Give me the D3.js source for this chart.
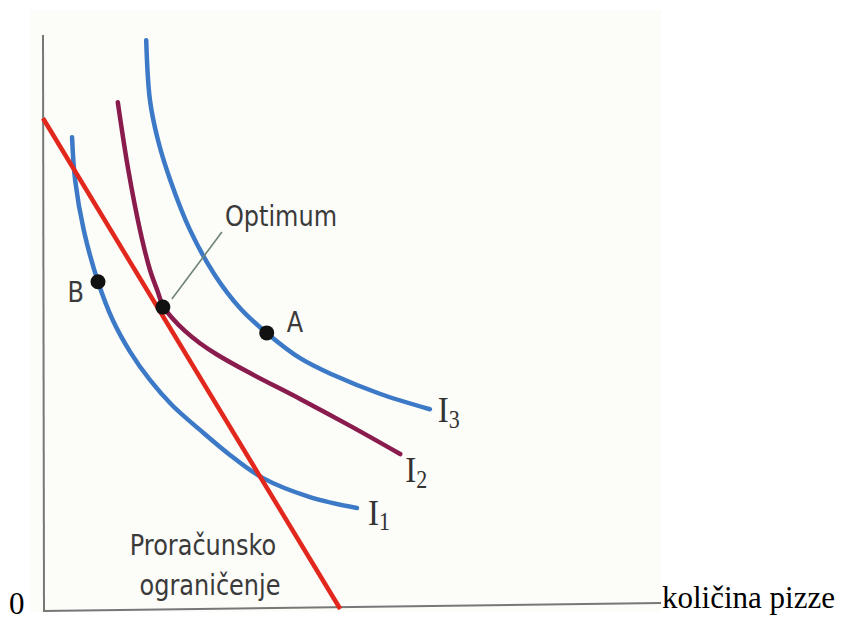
<!DOCTYPE html>
<html>
<head>
<meta charset="utf-8">
<script src="https://cdn.jsdelivr.net/npm/d3@7"></script>
<style>
  body { margin: 0; background: #ffffff; }
  svg { display: block; }
</style>
</head>
<body>
<div id="visualization"></div>
<script>
// values (x = količina pizze, y = other good, 0..100 units)
const budgetLine = [[0, 85.5], [48.1, 0]];

const curveI1 = [[4.7, 82.2], [5.2, 74.7], [6.6, 66.0], [8.9, 57.0], [11.3, 50.3], [14.1, 44.8],
                 [17.3, 39.9], [20.9, 35.5], [25.4, 31.2], [30.3, 26.8], [35.6, 22.8], [43.2, 19.5], [50.8, 17.6]];
const curveI2 = [[12.1, 88.3], [13.8, 76.5], [15.7, 66.0], [17.3, 59.1], [18.6, 55.2], [19.4, 52.8],
                 [20.9, 50.7], [23.0, 48.4], [25.4, 46.3], [28.2, 44.3], [33.5, 41.1], [41.6, 36.6], [49.7, 31.9], [57.8, 27.0]];
const curveI3 = [[16.7, 99.1], [17.3, 88.7], [18.6, 81.7], [20.6, 74.7], [23.8, 66.0], [27.8, 58.2],
                 [31.9, 52.4], [36.2, 48.1], [41.6, 43.7], [46.9, 40.8], [54.5, 37.5], [62.6, 34.8]];

const curveNames = ["1", "2", "3"];
const pointNames = ["B", "Optimum", "A"];
const pointValues = [[8.9, 57.0], [19.4, 52.6], [36.2, 48.1]];
const budgetLabel = ["Proračunsko", "ograničenje"];
const xTitle = "količina pizze";
const originLabel = "0";

const width = 841, height = 620;

const svg = d3.select("#visualization")
    .append("svg")
    .attr("width", width)
    .attr("height", height);

// scanned paper background
svg.append("rect")
    .attr("x", 30).attr("y", 10)
    .attr("width", 631).attr("height", 602)
    .attr("fill", "#fcfcf9");

const xScale = d3.scaleLinear().domain([0, 100]).range([43, 661]);
const yScale = d3.scaleLinear().domain([0, 100]).range([609, 35]);

// axes (plain lines, no ticks)
svg.append("line")
    .attr("x1", xScale(0)).attr("y1", yScale(100))
    .attr("x2", xScale(0) + 1).attr("y2", yScale(0) + 2)
    .attr("stroke", "#777").attr("stroke-width", 2);
svg.append("line")
    .attr("x1", xScale(0)).attr("y1", yScale(0) + 2)
    .attr("x2", xScale(100)).attr("y2", yScale(0) - 6)
    .attr("stroke", "#777").attr("stroke-width", 2);

const line = d3.line()
    .x(d => xScale(d[0]))
    .y(d => yScale(d[1]))
    .curve(d3.curveCatmullRom.alpha(0.5));

const curves = [
    { pts: curveI1, color: "#3c79c6" },
    { pts: curveI2, color: "#8a1b4d" },
    { pts: curveI3, color: "#3c79c6" }
];

svg.selectAll(".curve")
    .data(curves)
    .enter().append("path")
    .attr("class", "curve")
    .attr("d", d => line(d.pts))
    .attr("fill", "none")
    .attr("stroke", d => d.color)
    .attr("stroke-width", 4.5)
    .attr("stroke-linecap", "round");

// budget constraint
svg.append("path")
    .attr("d", d3.line().x(d => xScale(d[0])).y(d => yScale(d[1]))(budgetLine))
    .attr("fill", "none")
    .attr("stroke", "#e2281d")
    .attr("stroke-width", 4.5);

// leader line for Optimum
svg.append("line")
    .attr("x1", xScale(pointValues[1][0]) + 9).attr("y1", yScale(pointValues[1][1]) - 8)
    .attr("x2", xScale(pointValues[1][0]) + 59).attr("y2", yScale(pointValues[1][1]) - 75)
    .attr("stroke", "#6f8474").attr("stroke-width", 1.6);

// dots
svg.selectAll(".dot")
    .data(pointValues)
    .enter().append("circle")
    .attr("class", "dot")
    .attr("cx", d => xScale(d[0]))
    .attr("cy", d => yScale(d[1]))
    .attr("r", 7.5)
    .attr("fill", "#111");

const sans = "'DejaVu Sans', Verdana, sans-serif";
const serif = "'Liberation Serif', 'Times New Roman', serif";

function label(x, y, txt, anchor) {
    return svg.append("text")
        .attr("transform", `translate(${x},${y}) scale(1,1.15)`)
        .attr("text-anchor", anchor || "start")
        .style("font-family", sans)
        .style("font-size", "24px")
        .attr("fill", "#3a3a3a")
        .text(txt);
}

// point labels
label(xScale(pointValues[0][0]) - 14, yScale(pointValues[0][1]) + 20, pointNames[0], "end");
label(xScale(pointValues[1][0]) + 62, yScale(pointValues[1][1]) - 81, pointNames[1]);
label(xScale(pointValues[2][0]) + 20, yScale(pointValues[2][1]) - 1, pointNames[2]);

// budget constraint label
label(203, 555, budgetLabel[0], "middle");
label(210, 595, budgetLabel[1], "middle");

// indifference curve labels
const labelOffsets = [[11, 17], [5, 28], [8, 13]];
curves.forEach((c, i) => {
    const end = c.pts[c.pts.length - 1];
    const t = svg.append("text")
        .attr("transform", `translate(${xScale(end[0]) + labelOffsets[i][0]},${yScale(end[1]) + labelOffsets[i][1]}) scale(1,1.1)`)
        .style("font-family", serif)
        .style("font-size", "33px")
        .attr("fill", "#333");
    t.append("tspan").text("I");
    t.append("tspan")
        .attr("dy", 5)
        .style("font-size", "22px")
        .text(curveNames[i]);
});

// outside text (document text around the figure)
svg.append("text")
    .attr("x", 9).attr("y", 614)
    .style("font-family", serif)
    .style("font-size", "31px")
    .attr("fill", "#000")
    .text(originLabel);

svg.append("text")
    .attr("x", 662).attr("y", 608)
    .style("font-family", serif)
    .style("font-size", "31px")
    .attr("fill", "#000")
    .text(xTitle);
</script>
</body>
</html>
